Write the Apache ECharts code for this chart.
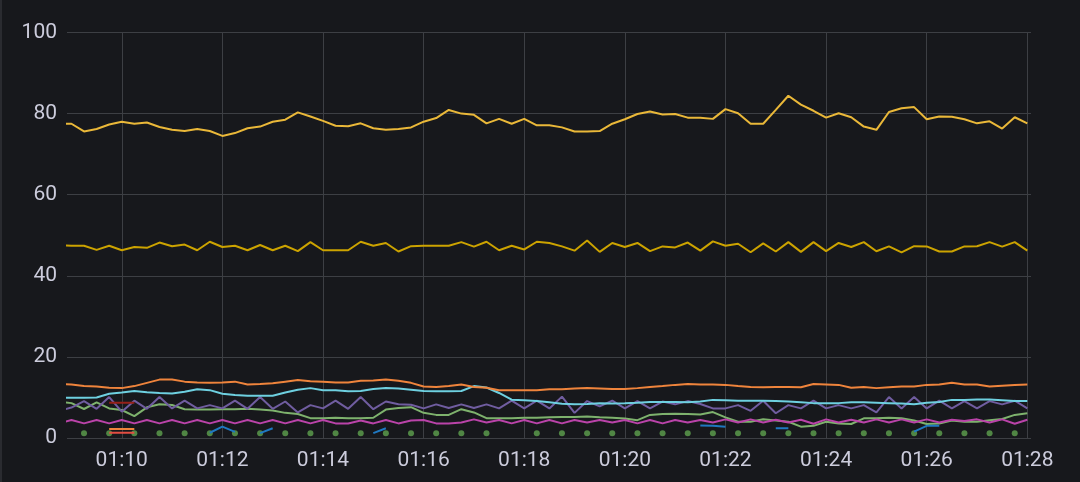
<!DOCTYPE html>
<html><head><meta charset="utf-8">
<script src="https://cdn.jsdelivr.net/npm/echarts@6/dist/echarts.min.js"></script>
<style>html,body{margin:0;padding:0;background:#17181c;}#c{width:1080px;height:482px;}</style>
</head><body><div id="c"></div>
<script>
const _ = null;
// sample times (15 s steps)
const timeLabels = [
 '01:08:45',
 '01:09:00','01:09:15','01:09:30','01:09:45','01:10:00','01:10:15','01:10:30','01:10:45',
 '01:11:00','01:11:15','01:11:30','01:11:45','01:12:00','01:12:15','01:12:30','01:12:45',
 '01:13:00','01:13:15','01:13:30','01:13:45','01:14:00','01:14:15','01:14:30','01:14:45',
 '01:15:00','01:15:15','01:15:30','01:15:45','01:16:00','01:16:15','01:16:30','01:16:45',
 '01:17:00','01:17:15','01:17:30','01:17:45','01:18:00','01:18:15','01:18:30','01:18:45',
 '01:19:00','01:19:15','01:19:30','01:19:45','01:20:00','01:20:15','01:20:30','01:20:45',
 '01:21:00','01:21:15','01:21:30','01:21:45','01:22:00','01:22:15','01:22:30','01:22:45',
 '01:23:00','01:23:15','01:23:30','01:23:45','01:24:00','01:24:15','01:24:30','01:24:45',
 '01:25:00','01:25:15','01:25:30','01:25:45','01:26:00','01:26:15','01:26:30','01:26:45',
 '01:27:00','01:27:15','01:27:30','01:27:45','01:28:00'
];
const tickLabels = ['01:10','01:12','01:14','01:16','01:18','01:20','01:22','01:24','01:26','01:28'];
const yTicks = [0,20,40,60,80,100];
const xRange = ['01:08:54.7','01:28:04.4'];

const yellowTop = [
 77.5,77.5,75.6,76.2,77.3,78.0,77.5,77.8,76.7,76.0,
 75.7,76.2,75.7,74.5,75.2,76.4,76.8,78.0,78.5,80.3,
 79.3,78.2,77.0,76.9,77.6,76.4,76.0,76.2,76.6,78.0,
 78.9,80.9,80.0,79.7,77.6,78.7,77.5,78.7,77.1,77.1,
 76.6,75.6,75.6,75.7,77.5,78.6,79.9,80.5,79.8,79.9,
 79.0,79.0,78.7,81.1,80.1,77.5,77.5,80.9,84.4,82.2,
 80.7,79.0,80.1,79.1,76.8,76.0,80.4,81.3,81.6,78.6,
 79.3,79.2,78.6,77.6,78.1,76.3,79.1,77.6
];
const yellowMid = [
 47.6,47.4,47.4,46.4,47.4,46.3,47.1,46.9,48.2,47.3,
 47.7,46.3,48.4,47.1,47.4,46.3,47.6,46.3,47.4,46.1,
 48.3,46.3,46.3,46.3,48.4,47.4,48.1,46.0,47.3,47.4,
 47.4,47.4,48.3,47.2,48.4,46.3,47.4,46.5,48.4,48.1,
 47.25,46.2,48.7,45.9,48.1,47.1,48.1,46.1,47.25,47.0,
 48.2,46.2,48.5,47.4,47.9,45.8,48.0,46.0,48.3,45.9,
 48.3,46.1,48.1,47.1,48.3,46.05,47.25,45.8,47.3,47.25,
 46.0,46.0,47.25,47.3,48.3,47.2,48.3,46.2
];
const orange = [
 13.3,13.2,12.8,12.7,12.4,12.3,12.8,13.6,14.4,14.4,
 13.9,13.7,13.6,13.7,13.9,13.2,13.3,13.5,13.9,14.3,
 14.0,13.9,13.7,13.7,14.1,14.2,14.45,14.1,13.6,12.7,
 12.6,12.8,13.2,12.6,12.4,11.8,11.8,11.8,11.8,12.0,
 12.0,12.2,12.3,12.2,12.1,12.1,12.3,12.6,12.8,13.1,
 13.3,13.2,13.2,13.1,12.8,12.6,12.5,12.6,12.6,12.5,
 13.3,13.2,13.1,12.4,12.6,12.3,12.5,12.7,12.7,13.1,
 13.2,13.6,13.2,13.2,12.7,12.9,13.1,13.2
];
const cyan = [
 9.95,9.95,9.95,10.0,10.9,11.2,11.6,11.3,11.1,11.0,
 11.4,12.0,11.8,10.9,10.6,10.4,10.4,10.4,11.2,11.9,
 12.3,11.8,11.8,11.5,11.6,12.1,12.35,12.2,11.9,11.6,
 11.5,11.5,11.6,12.8,12.45,11.1,9.45,9.3,9.1,8.8,
 8.45,8.3,8.4,8.55,8.5,8.55,8.7,8.9,8.9,8.9,
 8.8,9.0,9.4,9.3,9.2,9.2,9.2,9.1,9.0,8.8,
 8.6,8.55,8.6,8.8,8.8,8.7,8.6,8.5,8.3,8.7,
 8.9,9.4,9.4,9.5,9.5,9.3,9.1,9.1
];
const purple = [
 6.7,7.5,9.1,7.2,10.1,6.5,9.2,7.2,10.1,7.3,
 9.2,7.3,8.1,7.3,9.2,7.2,10.1,7.2,9.0,6.3,
 8.1,7.3,9.2,7.2,10.1,7.1,9.0,8.3,8.2,7.3,
 8.3,7.4,8.3,7.4,8.3,7.3,9.2,7.3,9.2,7.3,
 10.2,6.2,9.1,7.8,9.2,7.3,9.1,7.3,9.0,8.3,
 9.1,8.4,7.3,7.3,8.1,6.7,9.2,6.1,8.1,7.3,
 9.2,7.3,8.1,7.3,8.1,6.3,10.1,7.3,10.1,7.3,
 9.2,7.3,9.1,7.3,9.1,8.3,9.2,7.3
];
const green = [
 8.9,8.6,7.15,8.8,7.3,6.9,5.4,7.56,8.3,8.15,
 7.1,7.0,7.0,7.1,7.1,7.2,7.0,6.8,6.2,5.9,
 4.9,4.9,5.0,4.9,4.9,5.0,7.0,7.4,7.6,6.2,
 5.7,5.7,7.1,6.3,4.9,4.9,4.9,5.0,5.0,5.1,
 5.2,5.2,5.3,5.1,5.0,4.8,4.4,5.7,5.9,6.0,
 5.9,5.8,6.4,5.1,4.0,4.0,4.6,4.3,4.0,2.8,
 3.0,4.0,3.6,3.45,4.85,4.85,5.0,4.85,4.3,3.45,
 3.6,4.3,4.0,4.0,4.4,4.7,5.7,6.1
];
const magenta = [
 3.6,4.45,3.6,4.45,3.6,4.45,3.6,4.45,3.6,4.45,
 3.6,4.45,3.6,4.45,3.6,4.45,3.6,4.45,3.6,4.45,
 3.6,4.45,3.6,3.6,4.3,3.6,4.45,3.6,4.3,4.45,
 3.6,3.6,3.8,4.6,3.8,4.45,3.6,4.45,3.6,4.45,
 3.6,4.45,3.8,4.45,3.8,4.45,3.6,4.45,3.6,4.45,
 3.8,4.45,3.8,4.6,3.8,4.6,3.8,4.5,3.8,4.5,
 3.5,4.6,3.8,4.5,3.8,4.6,3.8,4.6,3.8,4.6,
 3.8,4.5,4.2,4.6,3.8,4.6,3.5,4.5
];
const blue = [
 _,_,_,_,_,_,_,_,_,_,
 _,_,1.3,2.8,1.5,_,1.2,2.4,_,_,
 _,_,_,_,_,1.2,2.4,_,_,_,
 _,_,_,_,_,_,_,_,_,_,
 _,_,_,_,_,_,_,_,_,_,
 _,3.1,3.0,2.8,_,_,_,2.4,2.4,_,
 _,_,_,_,_,_,_,_,1.55,3.0,
 3.0,_,_,_,_,_,_,_
];
const darkRed = [_,_,_,_,8.7,8.7,8.7,_,_,_].concat(new Array(68).fill(_));
const orangeLow = [_,_,_,_,2.2,2.2,2.2,_,_,_].concat(new Array(68).fill(_));
const redLow = [_,_,_,_,1.3,1.3,1.3,_,_,_].concat(new Array(68).fill(_));
const dots = [
 _,_,1.2,_,1.2,_,1.2,_,1.2,_,
 1.2,_,1.2,_,1.2,_,1.2,_,1.2,_,
 1.2,_,1.2,_,1.2,_,1.2,_,1.2,_,
 1.2,_,1.2,_,1.2,_,_,_,1.2,_,
 1.2,_,1.2,_,1.2,_,1.2,_,1.2,_,
 1.2,_,1.2,_,1.2,_,1.2,_,1.2,_,
 1.2,_,1.2,_,1.2,_,1.2,_,1.2,_,
 1.2,_,1.2,_,1.2,_,1.2,_
];

function toSec(s){const p=s.split(':');return (+p[0])*3600+(+p[1])*60+(p[2]?+p[2]:0);}
function pairs(arr){return arr.map((v,i)=>[toSec(timeLabels[i]), v==null?'-':v]);}
function fmt(v){const m=Math.round(v/60);const h=Math.floor(m/60),mm=m%60;return String(h).padStart(2,'0')+':'+String(mm).padStart(2,'0');}

const GRID='#3d3f44', TEXT='#ccccdc', FONT='Roboto';
const LW=2;
function line(name,arr,color,extra){
  return Object.assign({name,type:'line',data:pairs(arr),showSymbol:false,symbol:'none',
    connectNulls:false,silent:true,animation:false,
    lineStyle:{width:LW,color},itemStyle:{color}},extra||{});
}
const tickSecs = tickLabels.map(toSec);

const chart = echarts.init(document.getElementById('c'),null,{renderer:'canvas'});
chart.setOption({
  backgroundColor:'#17181c',
  animation:false,
  grid:{left:67,right:49,top:32.5,bottom:44,containLabel:false},
  xAxis:{type:'value',min:toSec(xRange[0]),max:toSec(xRange[1]),minInterval:120,maxInterval:120,
    axisLine:{show:false},axisTick:{show:false},splitLine:{show:false},
    axisLabel:{color:TEXT,fontSize:21,fontFamily:FONT,margin:12,
      formatter:v=>{const r=Math.round(v);return (r%120===0 && tickSecs.indexOf(r)>=0)?fmt(r):'';}}},
  yAxis:{type:'value',min:yTicks[0],max:yTicks[yTicks.length-1],interval:20,
    axisLine:{show:false},axisTick:{show:false},
    splitLine:{show:true,lineStyle:{color:GRID,width:1}},
    axisLabel:{color:TEXT,fontSize:21,fontFamily:FONT,margin:10}},
  graphic:[{type:'rect',shape:{x:0,y:0,width:2,height:482},style:{fill:'#2a2b30'},silent:true}],
  series:[
    {name:'grid',type:'line',data:[],silent:true,
      markLine:{silent:true,z:1,symbol:['none','none'],label:{show:false},animation:false,
        lineStyle:{color:GRID,width:1,type:'solid'},emphasis:{disabled:true},
        data:tickSecs.map(s=>({xAxis:s}))}},
    line('A',yellowTop,'#EAB839'),
    line('B',yellowMid,'#CCA300'),
    line('C',green,'#7EB26D'),
    line('D',magenta,'#BA43A9'),
    line('E',purple,'#705DA0'),
    line('F',cyan,'#6ED0E0'),
    line('G',orange,'#EF843C'),
    line('H',darkRed,'#962018'),
    line('I',orangeLow,'#EF843C'),
    line('J',redLow,'#E24D42'),
    line('K',blue,'#1F78C1'),
    {name:'L',type:'scatter',silent:true,animation:false,symbolSize:6,itemStyle:{color:'#5fa34f'},
      data:dots.map((v,i)=>v==null?null:[toSec(timeLabels[i]),v]).filter(Boolean)}
  ]
});
</script></body></html>
